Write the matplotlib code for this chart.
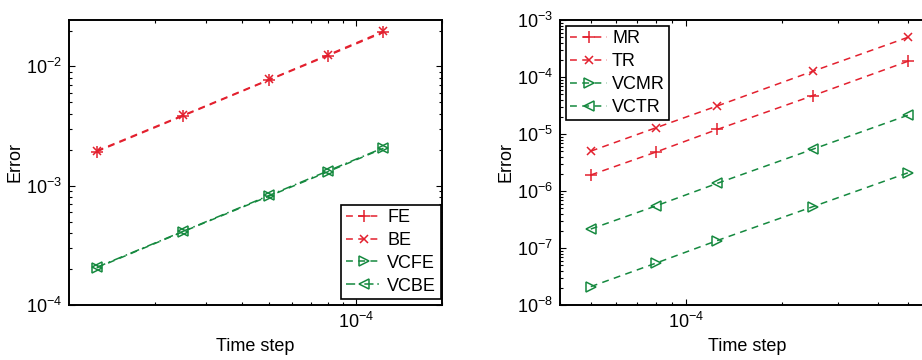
import matplotlib
matplotlib.use("Agg")
import matplotlib.pyplot as plt
from matplotlib.ticker import LogLocator, NullFormatter, FixedLocator

plt.rcParams['font.family'] = ['Liberation Sans', 'DejaVu Sans']
plt.rcParams['mathtext.fontset'] = 'custom'
plt.rcParams['mathtext.rm'] = 'Liberation Sans'
plt.rcParams['mathtext.it'] = 'Liberation Sans:italic'
plt.rcParams['mathtext.bf'] = 'Liberation Sans:bold'
plt.rcParams['font.size'] = 13

RED = '#e3202e'
GREEN = '#15893f'

# left panel: first order schemes
dt_left = [1.25e-5, 2.5e-5, 5e-5, 8e-5, 1.25e-4]
err_fe = [1.93e-3, 3.85e-3, 7.7e-3, 1.23e-2, 1.93e-2]
err_be = [1.96e-3, 3.9e-3, 7.78e-3, 1.25e-2, 1.97e-2]
err_vcfe = [2.05e-4, 4.12e-4, 8.2e-4, 1.31e-3, 2.06e-3]
err_vcbe = [2.07e-4, 4.15e-4, 8.3e-4, 1.33e-3, 2.08e-3]

# right panel: second order schemes
dt_right = [5e-5, 8e-5, 1.25e-4, 2.5e-4, 5e-4]
err_mr = [1.91e-6, 4.8e-6, 1.2e-5, 4.7e-5, 1.9e-4]
err_tr = [5.0e-6, 1.28e-5, 3.1e-5, 1.26e-4, 5.0e-4]
err_vcmr = [2.1e-8, 5.4e-8, 1.35e-7, 5.3e-7, 2.1e-6]
err_vctr = [2.15e-7, 5.45e-7, 1.36e-6, 5.4e-6, 2.15e-5]

W, H = 922, 360
fig = plt.figure(figsize=(W / 100, H / 100), dpi=100)
ax1 = fig.add_axes([69 / W, 55 / H, (442 - 69) / W, 285 / H])
ax2 = fig.add_axes([560 / W, 55 / H, (933.5 - 560) / W, 285 / H])

DASH = (0, (4.5, 3.5))
DASHDOT = (0, (6, 2.5, 1, 2.5))
base = dict(markerfacecolor='none', markeredgewidth=1.1, lw=1.1)
plus = dict(marker='+', markersize=8, **base)
cross = dict(marker='x', markersize=5.5, **base)
rtri = dict(marker='>', markersize=6.5, **base)
ltri = dict(marker='<', markersize=6.5, **base)

ax1.plot(dt_left, err_fe, ls=DASH, color=RED, label='FE', **plus)
ax1.plot(dt_left, err_be, ls=DASH, color=RED, label='BE', **cross)
ax1.plot(dt_left, err_vcfe, ls=DASH, color=GREEN, label='VCFE', **rtri)
ax1.plot(dt_left, err_vcbe, ls=DASHDOT, color=GREEN, label='VCBE', **ltri)
ax1.set_xlim(1e-5, 2e-4)
ax1.set_ylim(1e-4, 2.45e-2)

ax2.plot(dt_right, err_mr, ls=DASH, color=RED, label='MR', **plus)
ax2.plot(dt_right, err_tr, ls=DASH, color=RED, label='TR', **cross)
ax2.plot(dt_right, err_vcmr, ls=DASH, color=GREEN, label='VCMR', **rtri)
ax2.plot(dt_right, err_vctr, ls=DASH, color=GREEN, label='VCTR', **ltri)
ax2.set_xlim(4e-5, 6e-4)
ax2.set_ylim(1e-8, 1e-3)

for ax in (ax1, ax2):
    ax.set_xscale('log')
    ax.set_yscale('log')
    ax.set_xlabel('Time step', labelpad=4)
    ax.set_ylabel('Error', labelpad=2)
    ax.xaxis.set_major_locator(FixedLocator([1e-4]))
    ax.xaxis.set_minor_locator(LogLocator(base=10, subs=range(2, 10), numticks=20))
    ax.xaxis.set_minor_formatter(NullFormatter())
    ax.yaxis.set_minor_locator(LogLocator(base=10, subs=range(2, 10), numticks=20))
    ax.yaxis.set_minor_formatter(NullFormatter())
    ax.tick_params(which='both', direction='in', top=True, right=True, width=0.8)
    ax.tick_params(which='major', length=4, pad=5)
    ax.tick_params(which='minor', length=2.5)
    for s in ax.spines.values():
        s.set_linewidth(1.4)

leg_style = dict(fancybox=False, edgecolor='black', handlelength=2.0,
                 handletextpad=0.3, labelspacing=0.32, borderpad=0.25,
                 borderaxespad=0, framealpha=1)
leg1 = ax1.legend(loc='lower right', bbox_to_anchor=(0.996, 0.021), **leg_style)
leg1.get_frame().set_linewidth(1.2)
leg2 = ax2.legend(loc='upper left', bbox_to_anchor=(0.016, 0.979), **leg_style)
leg2.get_frame().set_linewidth(1.2)

fig.savefig('out.png', dpi=100)
